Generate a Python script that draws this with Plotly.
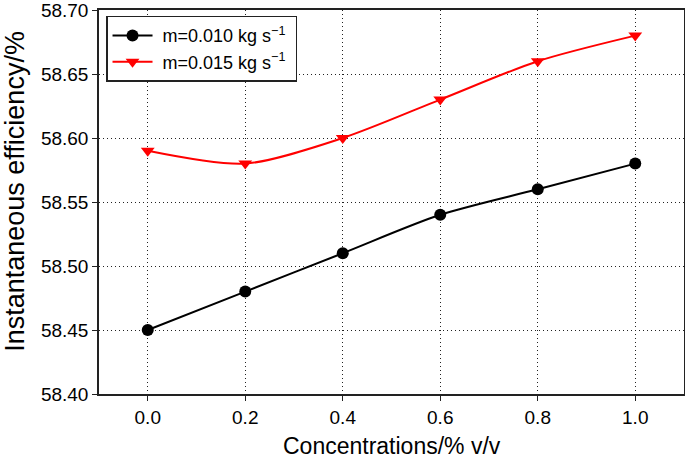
import plotly.graph_objects as go

conc = [0.0, 0.2, 0.4, 0.6, 0.8, 1.0]
eff_010 = [58.45, 58.48, 58.51, 58.54, 58.56, 58.58]
eff_015 = [58.59, 58.58, 58.60, 58.63, 58.66, 58.68]
x_ticks = [0.0, 0.2, 0.4, 0.6, 0.8, 1.0]
x_tick_labels = ["0.0", "0.2", "0.4", "0.6", "0.8", "1.0"]
y_ticks = [58.40, 58.45, 58.50, 58.55, 58.60, 58.65, 58.70]
y_tick_labels = ["58.40", "58.45", "58.50", "58.55", "58.60", "58.65", "58.70"]
name_010 = " m=0.010 kg s<sup>−1</sup> "
name_015 = " m=0.015 kg s<sup>−1</sup> "
x_title = "Concentrations/% v/v"
y_title = "Instantaneous efficiency/%"

fig = go.Figure()
fig.add_trace(go.Scatter(
    x=conc, y=eff_010, name=name_010, mode="lines+markers",
    line=dict(color="black", width=2, shape="spline", smoothing=0.8),
    marker=dict(symbol="circle", size=12, color="black"),
))
fig.add_trace(go.Scatter(
    x=conc, y=eff_015, name=name_015, mode="lines+markers",
    line=dict(color="#ff0000", width=2, shape="spline", smoothing=0.8),
    marker=dict(symbol="triangle-down", size=12, color="#ff0000"),
))

font_family = "Liberation Sans, Arial, sans-serif"
grid_dash = "1px,3px"
fig.update_layout(
    width=685, height=461,
    margin=dict(l=99, r=1, t=10, b=67),
    paper_bgcolor="white", plot_bgcolor="white",
    font=dict(family=font_family, color="black"),
    showlegend=True,
    legend=dict(
        x=0.012, y=0.985, xanchor="left", yanchor="top",
        bgcolor="white", bordercolor="#222222", borderwidth=1.5,
        font=dict(size=18, family=font_family),
        itemwidth=40, tracegroupgap=0,
    ),
    xaxis=dict(
        range=[-0.1, 1.1], tickvals=x_ticks, ticktext=x_tick_labels,
        showgrid=True, gridcolor="#222222", griddash=grid_dash, gridwidth=1,
        showline=True, linecolor="#222222", linewidth=1.5, mirror=True,
        ticks="outside", ticklen=5, tickcolor="#222222",
        tickfont=dict(size=19), zeroline=False, automargin=False,
    ),
    yaxis=dict(
        range=[58.40, 58.70], tickvals=y_ticks, ticktext=y_tick_labels,
        showgrid=True, gridcolor="#222222", griddash=grid_dash, gridwidth=1,
        showline=True, linecolor="#222222", linewidth=1.5, mirror=True,
        ticks="outside", ticklen=5, tickcolor="#222222",
        tickfont=dict(size=19), zeroline=False, automargin=False,
        ticklabeloverflow="allow",
    ),
    annotations=[
        dict(text=x_title, xref="paper", yref="paper", x=0.5, y=-0.135,
             xanchor="center", yanchor="middle", showarrow=False,
             font=dict(size=23)),
        dict(text=y_title, xref="paper", yref="paper", x=-0.145, y=0.527,
             xanchor="center", yanchor="middle", showarrow=False,
             textangle=-90, font=dict(size=27)),
    ],
)
fig.write_html(
    "out.html",
    config={"displayModeBar": False},
    post_script="document.body.style.margin='0';document.body.style.overflow='hidden';",
)
